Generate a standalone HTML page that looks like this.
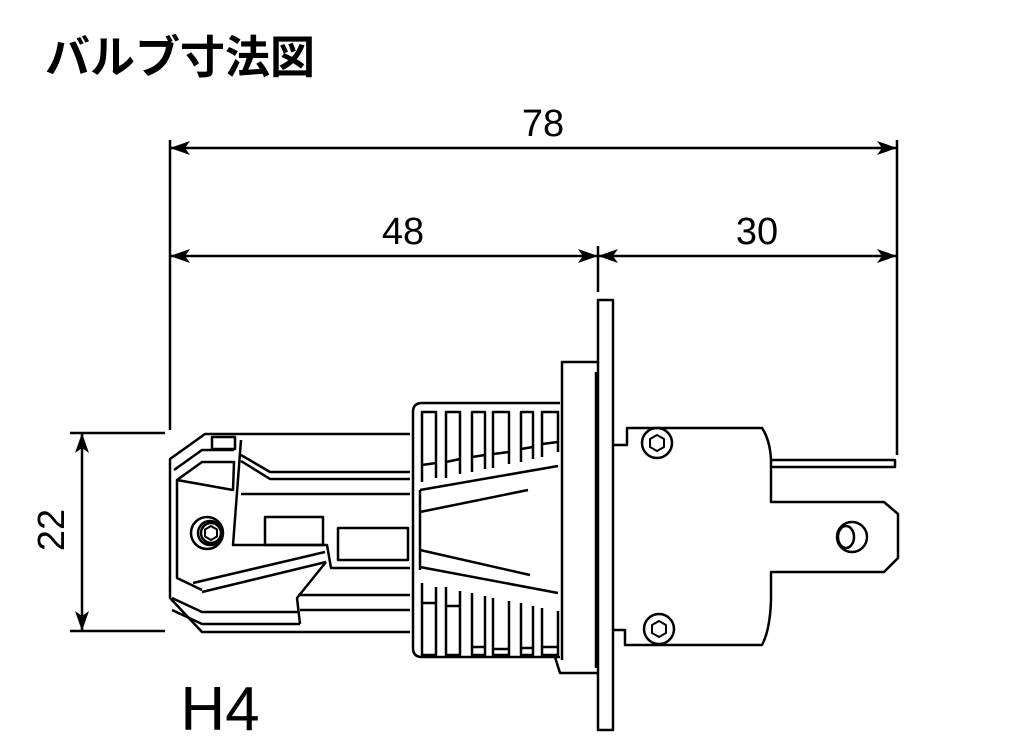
<!DOCTYPE html>
<html><head><meta charset="utf-8"><style>
html,body{margin:0;padding:0;background:#fff;}
svg{display:block}
</style></head><body>
<svg width="1024" height="751" viewBox="0 0 1024 751" xmlns="http://www.w3.org/2000/svg">
<defs>
<marker id="a" viewBox="0 0 20 14" refX="20" refY="7" markerWidth="20" markerHeight="14" markerUnits="userSpaceOnUse" orient="auto-start-reverse">
<path d="M0,0 L20,7 L0,14 L5,7 Z" fill="#000"/>
</marker>
</defs>
<text x="45" y="73" font-family="'Liberation Sans','Noto Sans CJK JP',sans-serif" font-weight="bold" font-size="45">バルブ寸法図</text>
<g font-family="'Liberation Sans','DejaVu Sans',sans-serif" font-size="38" text-anchor="middle">
<text x="543" y="136">78</text>
<text x="403" y="244">48</text>
<text x="757" y="244">30</text>
<text transform="translate(64,530) rotate(-90)">22</text>
</g>
<text x="220" y="730" font-family="'Liberation Sans','DejaVu Sans',sans-serif" font-size="62" text-anchor="middle">H4</text>
<g stroke="#000" stroke-width="2.5" fill="none">
<line x1="170" y1="140" x2="170" y2="430"/>
<line x1="897" y1="140" x2="897" y2="455"/>
<line x1="598" y1="246" x2="598" y2="292"/>
<line x1="170" y1="148" x2="897" y2="148" marker-start="url(#a)" marker-end="url(#a)"/>
<line x1="170" y1="256" x2="598" y2="256" marker-start="url(#a)" marker-end="url(#a)"/>
<line x1="598" y1="256" x2="897" y2="256" marker-start="url(#a)" marker-end="url(#a)"/>
<line x1="70" y1="433" x2="165" y2="433"/>
<line x1="70" y1="631" x2="165" y2="631"/>
<line x1="82" y1="433" x2="82" y2="631" marker-start="url(#a)" marker-end="url(#a)"/>
</g>
<g stroke="#000" stroke-width="2.5" fill="none" stroke-linejoin="round">
<rect x="598" y="300" width="15" height="430"/>
<path d="M598,362 H562 V660"/>
<path d="M555,657 L560,673 H597"/>
<line x1="596" y1="372" x2="596" y2="668"/>
<path d="M560,403 H422 Q413,403 413,412 V648 Q413,657 422,657 H560"/>
<g>
<path d="M422,482 V412 H436 V478"/><path d="M446,478 V412 H460 V474"/>
<path d="M472,472 V412 H485 V469"/><path d="M493,468 V412 H509 V464"/>
<path d="M521,462 V412 H533 V459"/><path d="M542,457 V412 H558 V452"/>
<path d="M422,583 V655 H436 V587"/><path d="M446,587 V655 H460 V591"/>
<path d="M472,593 V655 H485 V596"/><path d="M493,598 V655 H509 V601"/>
<path d="M521,603 V655 H533 V606"/><path d="M542,608 V655 H558 V611"/>
<line x1="422" y1="465" x2="436" y2="463"/><line x1="446" y1="462" x2="460" y2="459"/>
<line x1="472" y1="457" x2="485" y2="455"/><line x1="493" y1="454" x2="509" y2="452"/>
<line x1="521" y1="449" x2="533" y2="447"/><line x1="542" y1="444" x2="558" y2="442"/>
<line x1="422" y1="603" x2="436" y2="603"/><line x1="446" y1="606" x2="460" y2="606"/>
<line x1="472" y1="647" x2="485" y2="647"/><line x1="493" y1="649" x2="509" y2="649"/>
<line x1="521" y1="648" x2="533" y2="648"/><line x1="542" y1="647" x2="558" y2="647"/>
</g>
<line x1="420" y1="490" x2="558" y2="466"/>
<line x1="420" y1="512" x2="528" y2="490"/>
<line x1="420" y1="550" x2="530" y2="575"/>
<line x1="420" y1="567" x2="558" y2="593"/>
<line x1="420" y1="490" x2="420" y2="570"/>
<path d="M410,434 H205 L170,459 V598 L202,632 H410"/>
<path d="M174,470 L202,450 H234"/>
<path d="M177,480 L202,462 H234 L233,490 L177,480 V578 L202,590"/>
<rect x="212" y="437" width="23" height="12"/>
<path d="M241,440 L233,545 H327 L331,568 H410"/>
<path d="M241,455 L270,472 H410"/>
<path d="M241,461 L270,479 H410"/>
<path d="M241,494 H410"/>
<path d="M193,583 L325,552"/>
<path d="M202,592 L326,562"/>
<path d="M326,562 L297,598 L300,624"/>
<path d="M298,595 H410"/>
<path d="M300,610 H410"/>
<path d="M172,598 L202,612 H298"/>
<path d="M172,610 L202,624 H300"/>
<rect x="265" y="517" width="58" height="28"/>
<rect x="338" y="528" width="70" height="32"/>
<circle cx="207" cy="533" r="16"/>
<circle cx="210" cy="533" r="12"/>
<circle cx="211" cy="533" r="10"/>
<path d="M211,526 L217,529.5 V536.5 L211,540 L205,536.5 V529.5 Z" stroke-width="2"/>
<path d="M613,445 H627 V428 H762 Q770,440 771,460 V502 H884 L898,514 V558 L884,572 H771 V600 Q770,630 762,645 H625 V630 H613"/>
<path d="M771,460 H895 V467 H771"/>
<circle cx="657" cy="443" r="15"/>
<path d="M657,435 L664,439 V447 L657,451 L650,447 V439 Z" stroke-width="2"/>
<circle cx="659" cy="629" r="15"/>
<path d="M659,621 L666,625 V633 L659,637 L652,633 V625 Z" stroke-width="2"/>
<circle cx="852" cy="537" r="15"/>
<ellipse cx="846" cy="537" rx="8" ry="11"/>
</g>
</svg>
</body></html>
